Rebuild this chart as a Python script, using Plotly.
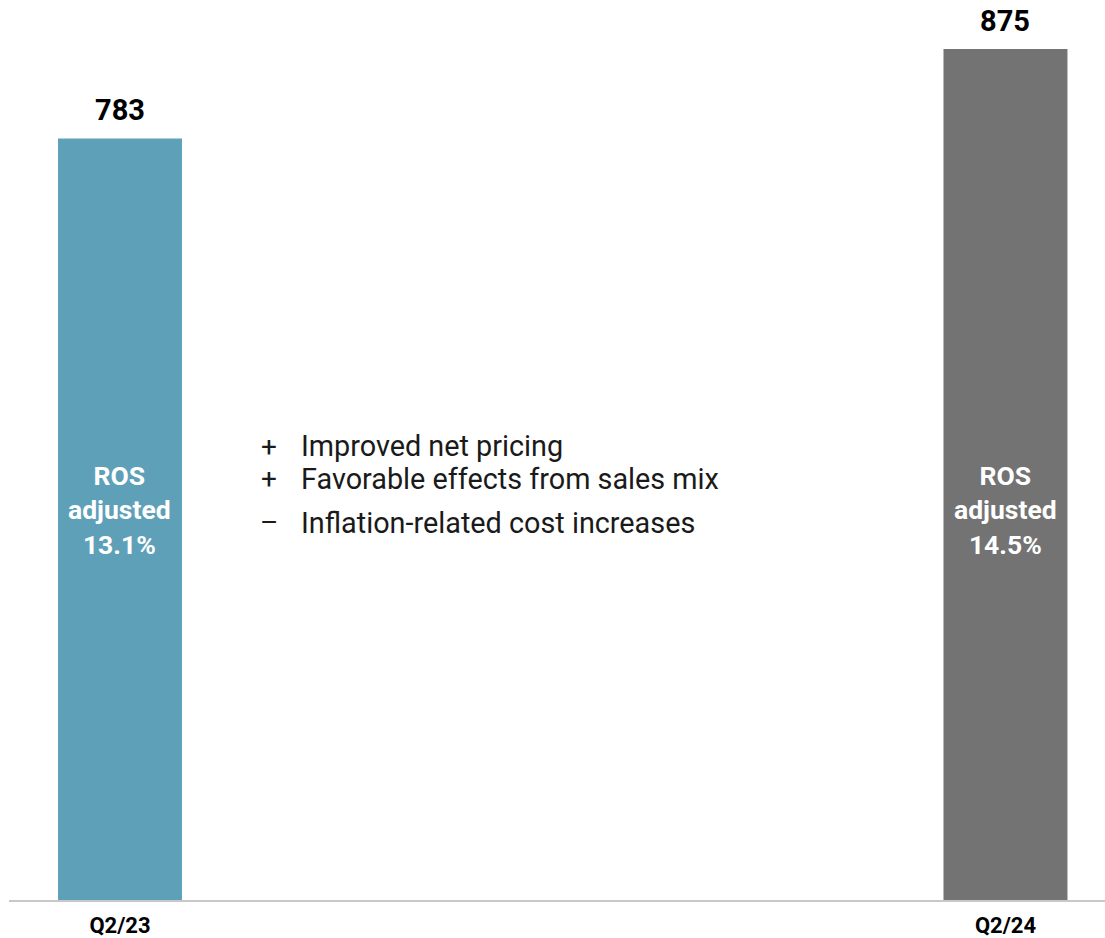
import plotly.graph_objects as go

# Quarterly figures
categories = ["Q2/23", "Q2/24"]
values = [783, 875]
ros_adjusted = [13.1, 14.5]
bar_colors = ["#5fa0b9", "#737373"]

# Drivers of the change between the two quarters
driver_signs = ["+", "+", "–"]
driver_texts = [
    "Improved net pricing",
    "Favorable effects from sales mix",
    "Inflation-related cost increases",
]
driver_y = [0.504, 0.468, 0.419]  # paper coordinates of each line

FONT = "Roboto"
W, H = 1105, 938

fig = go.Figure()
fig.add_trace(
    go.Bar(
        x=list(range(len(categories))),
        y=values,
        width=0.14,
        marker=dict(color=bar_colors, line=dict(width=0)),
        hoverinfo="skip",
    )
)

annotations = []
for i, (v, r) in enumerate(zip(values, ros_adjusted)):
    # value above each bar
    annotations.append(dict(
        x=i, y=v, xref="x", yref="y", text=f"<b>{v}</b>", showarrow=False,
        yanchor="middle", yshift=28,
        font=dict(family=FONT, size=29, color="#000000"),
    ))
    # ROS label inside each bar
    annotations.append(dict(
        x=i, y=0.4335, xref="x", yref="paper",
        text=f"<b>ROS<br>adjusted<br>{r:.1f}%</b>", showarrow=False,
        yanchor="middle", align="center",
        font=dict(family=FONT, size=26.5, color="#ffffff"),
    ))

for s, t, yy in zip(driver_signs, driver_texts, driver_y):
    annotations.append(dict(
        x=269, y=yy, xref="paper", yref="paper", text=s, showarrow=False,
        xanchor="center", yanchor="middle",
        font=dict(family=FONT, size=28, color="#1a1a1a"),
    ))
    annotations.append(dict(
        x=299, y=yy, xref="paper", yref="paper", text=t, showarrow=False,
        xanchor="left", yanchor="middle",
        font=dict(family=FONT, size=28.8, color="#1a1a1a"),
    ))

# convert the pixel-based x positions of the driver lines to paper units
plot_left, plot_right = 9, 0
pw = W - plot_left - plot_right
for a in annotations:
    if a["xref"] == "paper":
        a["x"] = (a["x"] - plot_left) / pw

fig.update_layout(
    width=W, height=H,
    margin=dict(l=plot_left, r=plot_right, t=0, b=36, pad=0),
    paper_bgcolor="#ffffff", plot_bgcolor="#ffffff",
    showlegend=False,
    annotations=annotations,
    xaxis=dict(
        range=[-0.12535, 1.1124],
        tickmode="array", tickvals=list(range(len(categories))),
        ticktext=[f"<b>{c}</b>" for c in categories],
        tickfont=dict(family=FONT, size=22, color="#000000"),
        showline=True, linecolor="#c8c8c8", linewidth=2,
        showgrid=False, zeroline=False, ticks="",
        ticklabelstandoff=5, fixedrange=True,
    ),
    yaxis=dict(
        range=[0, 925.4], visible=False, showgrid=False, zeroline=False,
        fixedrange=True,
    ),
)

fig.write_html("out.html")
